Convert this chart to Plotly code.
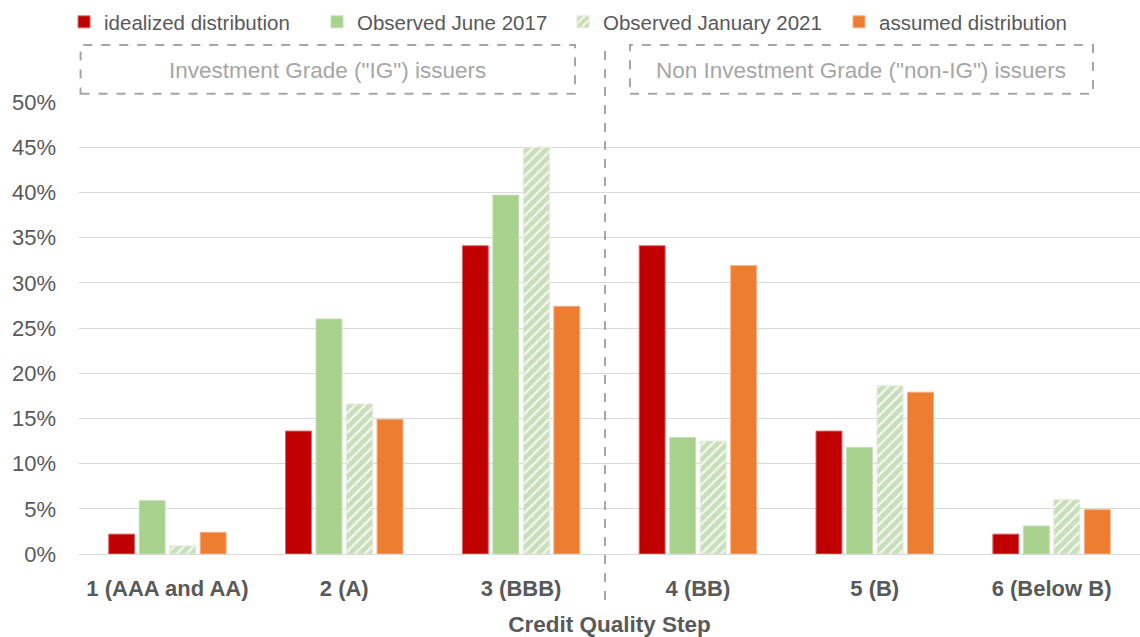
import plotly.graph_objects as go

# Credit quality steps and the share of issuers in each step (%)
steps = ["1 (AAA and AA)", "2 (A)", "3 (BBB)", "4 (BB)", "5 (B)", "6 (Below B)"]
idealized = [2.2, 13.6, 34.1, 34.1, 13.6, 2.2]
observed_2017 = [5.9, 26.0, 39.7, 12.9, 11.8, 3.1]
observed_2021 = [0.9, 16.6, 45.0, 12.5, 18.6, 6.0]
assumed = [2.4, 14.9, 27.4, 31.9, 17.9, 4.9]

RED = "#C00000"
GREEN = "#A9D18E"
ORANGE = "#ED7D31"
TEXT = "#595959"
GRID = "#D9D9D9"
BOX = "#A6A6A6"
FONT = "Liberation Sans, Arial, sans-serif"

fig = go.Figure()
fig.add_trace(go.Bar(x=steps, y=idealized, name="idealized distribution", legend="legend",
                     marker=dict(color=RED, line=dict(color="#E06666", width=1))))
fig.add_trace(go.Bar(x=steps, y=observed_2017, name="Observed June 2017", legend="legend2",
                     marker=dict(color=GREEN, line=dict(color="#C6E0B4", width=1))))
fig.add_trace(go.Bar(x=steps, y=observed_2021, name="Observed January 2021", legend="legend3",
                     marker=dict(color="white",
                                 line=dict(color="#E2EADC", width=1),
                                 pattern=dict(shape="/", fgcolor="#98C77A", bgcolor="#F8F8F8",
                                              size=7, solidity=0.7))))
fig.add_trace(go.Bar(x=steps, y=assumed, name="assumed distribution", legend="legend4",
                     marker=dict(color=ORANGE, line=dict(color="#F4B183", width=1))))

shapes = [
    # investment grade / non investment grade boxes
    dict(type="rect", xref="paper", yref="paper", x0=0.0015, x1=0.4675, y0=1.018, y1=1.126,
         line=dict(color=BOX, width=2, dash="dash")),
    dict(type="rect", xref="paper", yref="paper", x0=0.5193, x1=0.9557, y0=1.018, y1=1.126,
         line=dict(color=BOX, width=2, dash="dash")),
    # divider between BBB and BB
    dict(type="line", xref="paper", yref="paper", x0=0.4958, x1=0.4958, y0=-0.102, y1=1.126,
         line=dict(color=BOX, width=2, dash="dash")),
]

annotations = [
    dict(text='Investment Grade ("IG") issuers', xref="paper", yref="paper",
         x=0.2345, y=1.07, xanchor="center", yanchor="middle", showarrow=False,
         font=dict(family=FONT, size=22.5, color=BOX)),
    dict(text='Non Investment Grade ("non-IG") issuers', xref="paper", yref="paper",
         x=0.7375, y=1.07, xanchor="center", yanchor="middle", showarrow=False,
         font=dict(family=FONT, size=22.5, color=BOX)),
]

legend_common = dict(y=1.177, yanchor="middle", xanchor="left", itemwidth=30,
                     bgcolor="rgba(0,0,0,0)",
                     font=dict(family=FONT, size=20.5, color=TEXT))

fig.update_layout(
    width=1140, height=637,
    margin=dict(l=79, r=0, t=102, b=83),
    paper_bgcolor="white", plot_bgcolor="white",
    barmode="group", bargap=0.31, bargroupgap=0.15,
    font=dict(family=FONT, color=TEXT),
    shapes=shapes, annotations=annotations,
    showlegend=True,
    legend=dict(x=-0.0141, **legend_common),
    legend2=dict(x=0.2243, **legend_common),
    legend3=dict(x=0.4562, **legend_common),
    legend4=dict(x=0.7163, **legend_common),
    xaxis=dict(showline=True, linecolor=GRID, linewidth=1, showgrid=False,
               ticks="", tickfont=dict(family=FONT, size=22, color=TEXT, weight="bold"),
               ticklabelstandoff=15,
               title=dict(text="Credit Quality Step", standoff=20,
                          font=dict(family=FONT, size=22.5, color=TEXT, weight="bold"))),
    yaxis=dict(range=[0, 50], dtick=5, ticksuffix="%", showgrid=True, gridcolor=GRID,
               gridwidth=1, zeroline=False, ticks="", ticklabelstandoff=22,
               tickfont=dict(family=FONT, size=22, color=TEXT)),
)

fig.write_html("out.html")
